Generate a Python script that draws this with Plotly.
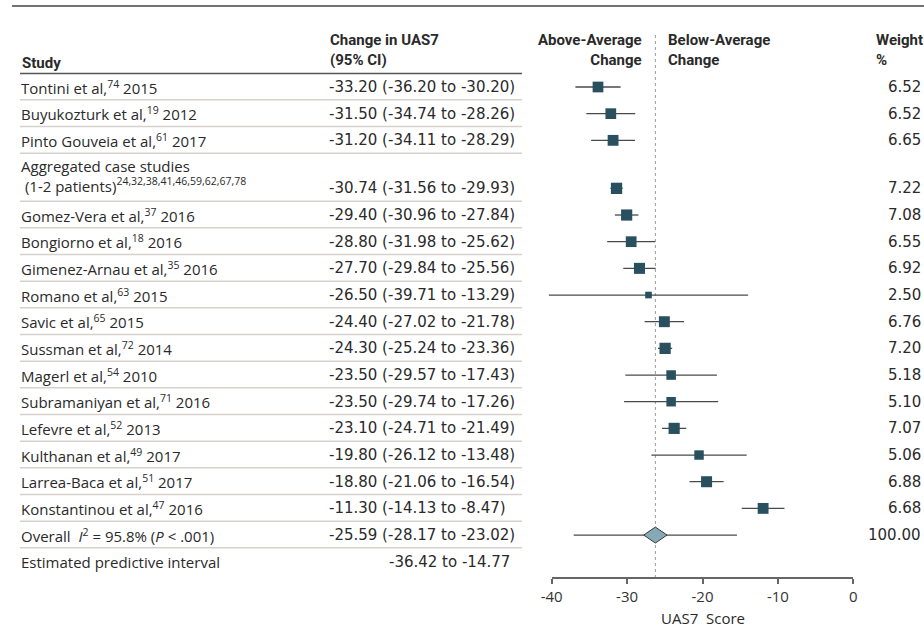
import math
import plotly.graph_objects as go

# ---------------- data ----------------
study_names = [
    "Tontini et al,<sup>74</sup> 2015",
    "Buyukozturk et al,<sup>19</sup> 2012",
    "Pinto Gouveia et al,<sup>61</sup> 2017",
    "Aggregated case studies<br>\u00a0(1-2 patients)<sup>24,32,38,41,46,59,62,67,78</sup>",
    "Gomez-Vera et al,<sup>37</sup> 2016",
    "Bongiorno et al,<sup>18</sup> 2016",
    "Gimenez-Arnau et al,<sup>35</sup> 2016",
    "Romano et al,<sup>63</sup> 2015",
    "Savic et al,<sup>65</sup> 2015",
    "Sussman et al,<sup>72</sup> 2014",
    "Magerl et al,<sup>54</sup> 2010",
    "Subramaniyan et al,<sup>71</sup> 2016",
    "Lefevre et al,<sup>52</sup> 2013",
    "Kulthanan et al,<sup>49</sup> 2017",
    "Larrea-Baca et al,<sup>51</sup> 2017",
    "Konstantinou et al,<sup>47</sup> 2016",
]
estimates = [-33.20, -31.50, -31.20, -30.74, -29.40, -28.80, -27.70, -26.50,
             -24.40, -24.30, -23.50, -23.50, -23.10, -19.80, -18.80, -11.30]
ci_low = [-36.20, -34.74, -34.11, -31.56, -30.96, -31.98, -29.84, -39.71,
          -27.02, -25.24, -29.57, -29.74, -24.71, -26.12, -21.06, -14.13]
ci_high = [-30.20, -28.26, -28.29, -29.93, -27.84, -25.62, -25.56, -13.29,
           -21.78, -23.36, -17.43, -17.26, -21.49, -13.48, -16.54, -8.47]
weights = [6.52, 6.52, 6.65, 7.22, 7.08, 6.55, 6.92, 2.50,
           6.76, 7.20, 5.18, 5.10, 7.07, 5.06, 6.88, 6.68]

overall_label = "Overall\u00a0 <i>I</i><sup>2</sup> = 95.8% (<i>P</i> &lt; .001)"
overall_est = -25.59
overall_lo = -28.17
overall_hi = -23.02
overall_weight = 100.00
pred_label = "Estimated predictive interval"
pred_lo = -36.42
pred_hi = -14.77

tick_vals = [-40, -30, -20, -10, 0]
tick_text = ["-40", "-30", "-20", "-10", "0"]
x_title = "UAS7\u00a0 Score"

# ---------------- layout constants ----------------
W, H = 924, 643
FONT_TXT = "Open Sans"
FONT_NUM = "DejaVu Sans"
FONT_HEAD = "Roboto"
FS = 15
TXT = "#2a2a2a"
SQUARE = "#28505e"
DIAMOND = "#86a9b8"
ROW_PX = 26.67
ROW0_PX = 87.0
AX_L_PX, AX_R_PX = 551.7, 853.3   # -40 .. 0 on the tick axis
AXIS_Y_PX = 578.0
SHIFT = 0.66                      # marks drawn slightly left of the ticks in the source
SIZE_K = 4.2
DIAMOND_HALF_W = 1.55
DIAMOND_HALF_H = 0.3


def py(px):
    return 1 - px / H


def px_x(px):
    return px / W


# row positions (two-line label rows are taller)
rows = []
cur = 0.0
for name in study_names:
    if "<br>" in name:
        cur += 0.8
    rows.append(cur)
    cur += 1.0
overall_row = cur
pred_row = cur + 1.0

# axis calibrations
ppu = (AX_R_PX - AX_L_PX) / (tick_vals[-1] - tick_vals[0])
DATA_DOM = [0.45, 1.0]


def data_val(px):
    return (px - AX_L_PX) / ppu + tick_vals[0] + SHIFT


data_range = [data_val(DATA_DOM[0] * W), data_val(DATA_DOM[1] * W)]
y_range = [(H - ROW0_PX) / ROW_PX, -ROW0_PX / ROW_PX]

fig = go.Figure()

# CI lines
xs, ys = [], []
for lo, hi, r in zip(ci_low, ci_high, rows):
    xs += [lo, hi, None]
    ys += [r, r, None]
fig.add_trace(go.Scatter(x=xs, y=ys, mode="lines",
                         line=dict(color="#4a4a4a", width=1.3),
                         hoverinfo="skip", showlegend=False))
# predictive interval
fig.add_trace(go.Scatter(x=[pred_lo, pred_hi], y=[overall_row, overall_row], mode="lines",
                         line=dict(color="#4a4a4a", width=1.3),
                         hoverinfo="skip", showlegend=False))
# squares
fig.add_trace(go.Scatter(x=estimates, y=rows, mode="markers",
                         marker=dict(symbol="square", color=SQUARE, opacity=1,
                                     size=[SIZE_K * math.sqrt(w) for w in weights],
                                     line=dict(width=0)),
                         hoverinfo="skip", showlegend=False))
# diamond
fig.add_trace(go.Scatter(
    x=[overall_est - DIAMOND_HALF_W, overall_est, overall_est + DIAMOND_HALF_W, overall_est,
       overall_est - DIAMOND_HALF_W],
    y=[overall_row, overall_row - DIAMOND_HALF_H, overall_row, overall_row + DIAMOND_HALF_H,
       overall_row],
    mode="lines", fill="toself", fillcolor=DIAMOND,
    line=dict(color="#3a3a3a", width=1), hoverinfo="skip", showlegend=False))
# invisible trace that carries the tick axis
fig.add_trace(go.Scatter(x=tick_vals, y=[None] * len(tick_vals), xaxis="x2", yaxis="y",
                         mode="markers", hoverinfo="skip", showlegend=False))

shapes = []
# top rule
shapes.append(dict(type="line", xref="paper", yref="paper", x0=px_x(12), x1=1.0,
                   y0=py(6), y1=py(6), line=dict(color="#444", width=1.5)))
# header rule
shapes.append(dict(type="line", xref="paper", yref="paper", x0=px_x(20), x1=px_x(522),
                   y0=py(73.5), y1=py(73.5), line=dict(color="#555", width=1.5)))
# row separators
for r in rows + [overall_row]:
    shapes.append(dict(type="line", xref="paper", yref="y", x0=px_x(20), x1=px_x(522),
                       y0=r + 0.48, y1=r + 0.48, line=dict(color="#d5d2cb", width=1.5)))
# dotted line at overall estimate
shapes.append(dict(type="line", xref="x", yref="paper", x0=overall_est, x1=overall_est,
                   y0=py(AXIS_Y_PX), y1=py(33),
                   line=dict(color="#9a9a9a", width=1, dash="dot"), layer="below"))

ann = []


def add(text, x, y, xanchor="left", yref="y", bold=False, align="left", xref="paper",
        family=FONT_TXT):
    if bold:
        text = "<b>" + text.replace("<br>", "</b><br><b>") + "</b>"
    ann.append(dict(text=text, x=x, y=y, xref=xref, yref=yref, xanchor=xanchor,
                    yanchor="middle", align=align, showarrow=False,
                    font=dict(family=family, size=FS, color=TXT)))


# headers
add("Study", px_x(20), py(63), yref="paper", bold=True, family=FONT_HEAD)
add("Change in UAS7<br>(95% CI)", px_x(328), py(50), yref="paper", bold=True, family=FONT_HEAD)
add("Above-Average<br>Change", px_x(644), py(50), xanchor="right", yref="paper", bold=True,
    align="right", family=FONT_HEAD)
add("Below-Average<br>Change", px_x(666), py(50), yref="paper", bold=True, family=FONT_HEAD)
add("Weight<br>%", px_x(874), py(50), yref="paper", bold=True, family=FONT_HEAD)

for name, est, lo, hi, w, r in zip(study_names, estimates, ci_low, ci_high, weights, rows):
    if "<br>" in name:
        add(name, px_x(19), r - 0.47)
    else:
        add(name, px_x(19), r)
    add(f"{est:.2f} ({lo:.2f} to {hi:.2f})", px_x(327), r, family=FONT_NUM)
    add(f"{w:.2f}", px_x(923), r, xanchor="right", family=FONT_NUM)

add(overall_label, px_x(19), overall_row)
add(f"{overall_est:.2f} ({overall_lo:.2f} to {overall_hi:.2f})", px_x(327), overall_row,
    family=FONT_NUM)
add(f"{overall_weight:.2f}", px_x(923), overall_row, xanchor="right", family=FONT_NUM)
add(pred_label, px_x(19), pred_row)
add(f"{pred_lo:.2f} to {pred_hi:.2f}", px_x(387), pred_row, family=FONT_NUM)

# axis title
add(x_title, -20, py(618), xanchor="center", yref="paper", xref="x2")

fig.update_layout(
    width=W, height=H, margin=dict(l=0, r=0, t=0, b=0, pad=0, autoexpand=False),
    paper_bgcolor="white", plot_bgcolor="rgba(0,0,0,0)",
    showlegend=False,
    xaxis=dict(domain=DATA_DOM, range=data_range, visible=False, fixedrange=True),
    xaxis2=dict(domain=[px_x(AX_L_PX), px_x(AX_R_PX)], range=[tick_vals[0], tick_vals[-1]],
                anchor="free", position=py(AXIS_Y_PX),
                showline=True, linecolor="#666", linewidth=1.5,
                ticks="outside", ticklen=5, tickwidth=1.5, tickcolor="#666",
                tickvals=tick_vals, ticktext=tick_text,
                tickfont=dict(family=FONT_TXT, size=FS, color="#333"),
                showgrid=False, zeroline=False, fixedrange=True),
    yaxis=dict(domain=[0, 1], range=y_range, visible=False, fixedrange=True),
    shapes=shapes, annotations=ann,
)

fig.write_html("out.html", config={"displayModeBar": False},
               post_script="document.body.style.margin='0';document.body.style.overflow='hidden';")
